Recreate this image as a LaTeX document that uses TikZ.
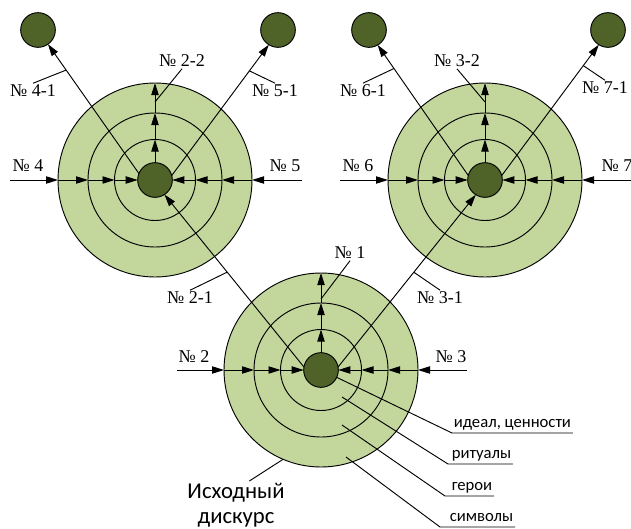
\documentclass[tikz,border=0pt]{standalone}
\usepackage{fontspec}
\setmainfont{Liberation Serif}
\newfontfamily\labelfont{Carlito}
\usetikzlibrary{arrows.meta,calc}
\definecolor{ringgreen}{HTML}{C3D69B}
\definecolor{coregreen}{HTML}{4F6228}

\begin{document}
\begin{tikzpicture}[x=0.75pt,y=-0.75pt,>={Triangle[length=9pt,width=5.5pt]},line width=0.7pt]
    \tikzset{ring/.style={draw, circle, inner sep=0pt, outer sep=0pt, fill=ringgreen},
             core/.style={draw, circle, inner sep=0pt, outer sep=0pt, fill=coregreen, minimum size=26pt},
             num/.style={font=\fontsize{13.5}{15}\selectfont, inner sep=1pt},
             lbl/.style={font=\labelfont\fontsize{12.5}{14}\selectfont, inner xsep=1pt, inner ysep=1.5pt, text depth=0.25em, anchor=south west}}
    \useasboundingbox (0,0) rectangle (631,528);
    % top left target
    \node[ring, minimum size=145.5pt] (L1) at (155,180) {};
    \node[ring, minimum size=100.5pt] (L2) at (155,180) {};
    \node[ring, minimum size=60.75pt] (L3) at (155,180) {};
    \node[core] (Lc) at (155,180) {};
    % top right target
    \node[ring, minimum size=145.5pt] (R1) at (485,180) {};
    \node[ring, minimum size=100.5pt] (R2) at (485,180) {};
    \node[ring, minimum size=60.75pt] (R3) at (485,180) {};
    \node[core] (Rc) at (485,180) {};
    % bottom target
    \node[ring, minimum size=145.5pt] (B1) at (321,370) {};
    \node[ring, minimum size=100.5pt] (B2) at (321,370) {};
    \node[ring, minimum size=60.75pt] (B3) at (321,370) {};
    \node[core] (Bc) at (321,370) {};
    % small goals
    \node[core] (s41) at (38,30) {};
    \node[core] (s51) at (278,30) {};
    \node[core] (s61) at (369,30) {};
    \node[core] (s71) at (608,30) {};

    % incoming lines
    \coordinate (L4in) at (10,180);
    \coordinate (L5in) at (302,180);
    \coordinate (R6in) at (340,180);
    \coordinate (R7in) at (640,180);
    \coordinate (B2in) at (177,370);
    \coordinate (B3in) at (467,370);
    \draw[->] (L4in) -- (L1.west); \draw[->] (L1.west) -- (L2.west); \draw[->] (L2.west) -- (L3.west); \draw[->] (L3.west) -- (Lc.west);
    \draw[->] (L5in) -- (L1.east); \draw[->] (L1.east) -- (L2.east); \draw[->] (L2.east) -- (L3.east); \draw[->] (L3.east) -- (Lc.east);
    \draw[->] (Lc.north) -- (L3.north); \draw[->] (L3.north) -- (L2.north); \draw[->] (L2.north) -- (L1.north);
    \draw[->] (R6in) -- (R1.west); \draw[->] (R1.west) -- (R2.west); \draw[->] (R2.west) -- (R3.west); \draw[->] (R3.west) -- (Rc.west);
    \draw[->] (R7in) -- (R1.east); \draw[->] (R1.east) -- (R2.east); \draw[->] (R2.east) -- (R3.east); \draw[->] (R3.east) -- (Rc.east);
    \draw[->] (Rc.north) -- (R3.north); \draw[->] (R3.north) -- (R2.north); \draw[->] (R2.north) -- (R1.north);
    \draw[->] (B2in) -- (B1.west); \draw[->] (B1.west) -- (B2.west); \draw[->] (B2.west) -- (B3.west); \draw[->] (B3.west) -- (Bc.west);
    \draw[->] (B3in) -- (B1.east); \draw[->] (B1.east) -- (B2.east); \draw[->] (B2.east) -- (B3.east); \draw[->] (B3.east) -- (Bc.east);
    \draw[->] (Bc.north) -- (B3.north); \draw[->] (B3.north) -- (B2.north); \draw[->] (B2.north) -- (B1.north);

    % outgoing lines
    \draw[->] (Lc.158) -- (s41.-55);
    \draw[->] (Lc.15) -- (s51.-122);
    \draw[->] (Rc.165) -- (s61.-60);
    \draw[->] (Rc.15) -- (s71.-122);
    \draw[->] (Bc.170) -- (Lc.-57);
    \draw[->] (Bc.10) -- (Rc.-122);

    % numbers
    \node[num] (l4) at (28,166) {№ 4};
    \node[num] (l5) at (285,166) {№ 5};
    \node[num] (l6) at (358,166) {№ 6};
    \node[num] (l7) at (617,166) {№ 7};
    \node[num] (l2) at (194,357) {№ 2};
    \node[num] (l3) at (451,357) {№ 3};
    \node[num] (l41) at (33,91) {№ 4-1};
    \node[num] (l51) at (275,91) {№ 5-1};
    \node[num] (l61) at (363,91) {№ 6-1};
    \node[num] (l71) at (605,88) {№ 7-1};
    \node[num] (l22) at (182,61) {№ 2-2};
    \node[num] (l32) at (457,61) {№ 3-2};
    \node[num] (l1) at (350,253) {№ 1};
    \node[num] (l21) at (190,298) {№ 2-1};
    \node[num] (l31) at (440,298) {№ 3-1};
    \coordinate (k41) at ($(Lc.158)!0.8!(s41.-55)$);
    \coordinate (k51) at ($(Lc.15)!0.8!(s51.-122)$);
    \coordinate (k61) at ($(Rc.165)!0.82!(s61.-60)$);
    \coordinate (k71) at ($(Rc.15)!0.84!(s71.-122)$);
    \coordinate (k21) at ($(Bc.170)!0.55!(Lc.-57)$);
    \coordinate (k31) at ($(Bc.10)!0.55!(Rc.-122)$);
    \coordinate (k22) at (155,102);
    \coordinate (k32) at (485,102);
    \coordinate (k1) at (321,299);
    \draw (l41.north) -- (k41);
    \draw (l51.north) -- (k51);
    \draw (l61.north) -- (k61);
    \draw (l71.north) -- (k71);
    \draw (l22.south) -- (k22);
    \draw (l32.south) -- (k32);
    \draw (l1.south) -- (k1);
    \draw (l21.north) -- (k21);
    \draw (l31.north) -- (k31);

    % layers of the discourse
    \node[lbl] (ideal) at (452,433) {идеал, ценности};
    \node[lbl] (ritual) at (450,464) {ритуалы};
    \node[lbl] (hero) at (450,496) {герои};
    \node[lbl] (symbol) at (448,527) {символы};
    \coordinate (r1) at (342,397);
    \coordinate (r2) at (342,425);
    \coordinate (r3) at (346,457);
    \draw (Bc.-25) -- (ideal.south west) -- (ideal.south east);
    \draw (r1) -- ([xshift=-1.5pt]ritual.south west) -- (ritual.south east);
    \draw (r2) -- ([xshift=-3.75pt]hero.south west) -- (hero.south east);
    \draw (r3) -- ([xshift=-6pt]symbol.south west) -- (symbol.south east);
    \node[font=\labelfont\fontsize{17}{19}\selectfont, align=center, inner sep=1pt] (start) at (236,505) {Исходный\\дискурс};
    \draw (B1.247) -- ([xshift=10pt]start.north);
\end{tikzpicture}
\end{document}
